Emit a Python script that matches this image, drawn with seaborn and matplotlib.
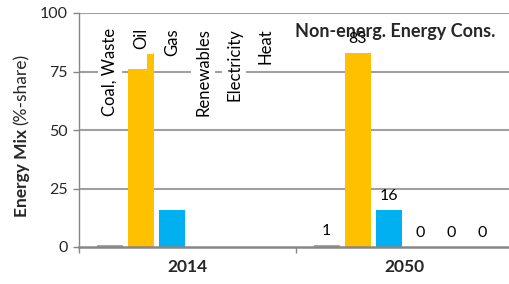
import numpy as np
import pandas as pd
import matplotlib
matplotlib.use("Agg")
import matplotlib.pyplot as plt
import seaborn as sns

# data
years = ["2014", "2050"]
fuels = ["Coal, Waste", "Oil", "Gas", "Renewables", "Electricity", "Heat"]
share_2014 = [1, 76, 16, 0, 0, 0]
share_2050 = [1, 83, 16, 0, 0, 0]
oil_step_2014 = 83
fuel_colors = ["#A6A6A6", "#FFC000", "#00B0F0", "#92D050", "#7030A0", "#C00000"]
yticks = [0, 25, 50, 75, 100]
panel_title = "Non-energ. Energy Cons."

sns.set_theme(style="white")
plt.rcParams["font.family"] = ["Lato", "DejaVu Sans"]

df = pd.DataFrame({
    "year": np.repeat(years, len(fuels)),
    "fuel": fuels * len(years),
    "share": share_2014 + share_2050,
})

fig = plt.figure(figsize=(5.1, 2.84), dpi=100)
ax = fig.add_axes([79 / 510, 37 / 284, 434 / 510, 234 / 284])

sns.barplot(data=df, x="year", y="share", hue="fuel", hue_order=fuels,
            palette=fuel_colors, width=0.86, gap=0.15, saturation=1,
            legend=False, ax=ax, zorder=2, linewidth=0)

# horizontal grid lines behind the bars
for yv in yticks[1:]:
    ax.axhline(yv, color="#A0A0A0", linewidth=1.5, zorder=1.5)

# odd little step on the 2014 oil bar
p = ax.containers[1].patches[0]
ax.bar(p.get_x() + p.get_width() * 0.74, oil_step_2014, width=p.get_width() * 0.26,
       align="edge", color=fuel_colors[1], linewidth=0, zorder=2)

# fuel names over the 2014 group, values over the 2050 group
for cont, name in zip(ax.containers, fuels):
    b = cont.patches[0]
    ax.text(b.get_x() + b.get_width() / 2, 93.5, name, rotation=90, ha="center", va="top",
            fontsize=12, color="black", zorder=4,
            bbox=dict(facecolor="white", edgecolor="none", pad=3))
    ax.bar_label(cont, labels=[""] + [f"{v:.0f}" for v in cont.datavalues[1:]],
                 padding=5, fontsize=11.5, color="black", zorder=5)

ax.text(0.728, 0.919, panel_title, transform=ax.transAxes, ha="center", va="center",
        fontsize=13, fontweight="bold", zorder=3)

ax.set_ylim(0, 100)
ax.set_xlim(-0.5, 1.5)
ax.set_yticks(yticks)
for s in ["top", "right"]:
    ax.spines[s].set_visible(False)
ax.spines["left"].set_color("#868686")
ax.spines["left"].set_linewidth(1)
ax.spines["bottom"].set_color("#868686")
ax.spines["bottom"].set_linewidth(1.8)
ax.tick_params(axis="y", length=4.5, width=1, color="#868686", direction="out",
               labelsize=11.5, pad=3.5, left=True)
ax.set_xticks([-0.5, 0.5, 1.5], minor=True)
ax.tick_params(axis="x", which="minor", length=4, width=1, color="#868686", bottom=True)
ax.tick_params(axis="x", which="major", length=0, pad=9, labelsize=12.5)
for lbl in ax.get_xticklabels():
    lbl.set_fontweight("bold")
ax.set_xlabel("")
ax.set_ylabel("")

# two-part y label: bold "Energy Mix" + normal "(%-share)"
t1 = fig.text(22 / 510, (284 - 217) / 284, "Energy Mix ", rotation=90, ha="center",
              va="bottom", fontsize=12.5, fontweight="bold")
fig.canvas.draw()
bb = t1.get_window_extent().transformed(fig.transFigure.inverted())
fig.text(22 / 510, bb.y1, "(%-share)", rotation=90, ha="center", va="bottom", fontsize=12.5)

fig.savefig("out.png", dpi=100)
